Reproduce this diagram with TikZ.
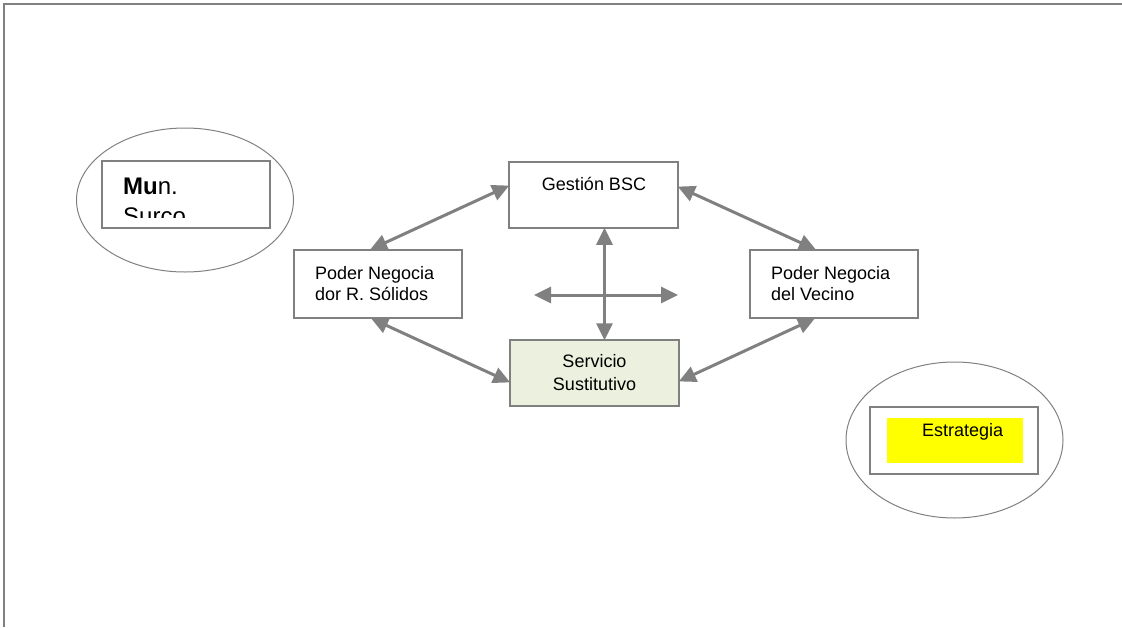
\documentclass[tikz,border=0pt]{standalone}
\usepackage{fontspec}
\setmainfont{Liberation Sans}
\usetikzlibrary{arrows.meta,shapes.geometric}
\definecolor{lgray}{HTML}{808080}
\definecolor{lgreen}{HTML}{EBF1DE}
\definecolor{ylw}{HTML}{FFFF00}
\tikzset{
  boxnode/.style={draw=lgray, line width=1.5pt, fill=white, rectangle, inner sep=0pt},
  ovalnode/.style={draw=lgray, line width=1pt, ellipse, inner sep=0pt},
  conn/.style={draw=lgray, line width=3pt, {Triangle[length=17pt,width=16pt]}-{Triangle[length=17pt,width=16pt]}, shorten >=-1pt, shorten <=-1pt},
  txt/.style={inner sep=0pt, font=\fontsize{18}{21}\selectfont},
}
\begin{document}
\begin{tikzpicture}[x=1pt,y=-1pt]
\useasboundingbox (0,0) rectangle (1122,627);
% frame (top and left only)
\coordinate (ftl) at (4,4);
\coordinate (ftr) at (1122,4);
\coordinate (fbl) at (4,627);
\draw[lgray, line width=2pt] (ftr) -- (ftl) -- (fbl);

% ellipses
\node[ovalnode, minimum width=217pt, minimum height=144pt] (ovl) at (185,200) {};
\node[ovalnode, minimum width=217pt, minimum height=156pt] (ovr) at (954.5,440) {};

% left inner box
\node[boxnode, minimum width=168pt, minimum height=67pt] (mun) at (186,194.5) {};
\begin{scope}
  \clip (102,161) rectangle (270,217);
  \node[inner sep=0pt, anchor=base west, font=\fontsize{24}{24}\selectfont] (muntxt) at (123,194) {\textbf{Mu}n.};
  \node[inner sep=0pt, anchor=base west, font=\fontsize{24}{24}\selectfont] (surtxt) at (123,224) {Surco};
\end{scope}

% right inner box
\node[boxnode, minimum width=168pt, minimum height=67pt] (estb) at (954,440.5) {};
\node[fill=ylw, inner sep=0pt, minimum width=136pt, minimum height=45pt] (esty) at (955,440.5) {};
\node[txt, anchor=base west] (esttxt) at (922,436) {Estrategia};

% main boxes
\node[boxnode, minimum width=169pt, minimum height=66pt] (gest) at (593.5,195) {};
\node[txt, anchor=base] (gesttxt) at (594,190) {Gestión BSC};

\node[boxnode, minimum width=168pt, minimum height=68pt] (pr) at (378,284) {};
\node[txt, anchor=base west] (prt1) at (315,279) {Poder Negocia};
\node[txt, anchor=base west] (prt2) at (315,300) {dor R. Sólidos};

\node[boxnode, minimum width=168pt, minimum height=68pt] (pv) at (834,284) {};
\node[txt, anchor=base west] (pvt1) at (771,279) {Poder Negocia};
\node[txt, anchor=base west] (pvt2) at (771,300) {del Vecino};

\node[boxnode, fill=lgreen, minimum width=169pt, minimum height=66pt] (serv) at (594.5,373) {};
\node[txt, anchor=base] (servt1) at (594.5,367) {Servicio};
\node[txt, anchor=base] (servt2) at (594.5,390) {Sustitutivo};

% connectors
\draw[conn] ([yshift=9pt]gest.west) -- ([xshift=-7pt]pr.north);
\draw[conn] ([yshift=8pt]gest.east) -- ([xshift=-19pt]pv.north);
\draw[conn] ([xshift=11pt]gest.south) -- ([xshift=10pt]serv.north);
\draw[conn] ([xshift=-6pt]pr.south) -- ([yshift=-9pt]serv.west);
\draw[conn] ([xshift=-20pt]pv.south) -- ([yshift=-8pt]serv.east);
\coordinate (hl) at (535,295);
\coordinate (hr) at (677,295);
\draw[conn] (hl) -- (hr);
\end{tikzpicture}
\end{document}
